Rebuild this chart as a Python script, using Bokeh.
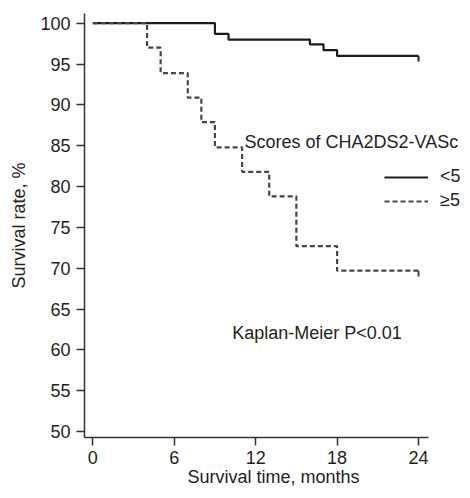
from bokeh.plotting import figure
from bokeh.models import Range1d, Label, Legend, LegendItem, FixedTicker
from bokeh.embed import file_html
from bokeh.resources import INLINE

# Data
low_t = [0, 9, 10, 16, 17, 18, 24]
low_s = [100, 98.7, 98.0, 97.4, 96.7, 96.0, 96.0]
high_t = [0, 4, 5, 7, 8, 9, 11, 13, 15, 18, 24]
high_s = [100, 97.0, 93.9, 90.9, 87.9, 84.8, 81.8, 78.8, 72.7, 69.7, 69.7]
x_ticks = [0, 6, 12, 18, 24]
y_ticks = [50, 55, 60, 65, 70, 75, 80, 85, 90, 95, 100]
series_labels = ["<5", "\u22655"]
legend_title = "Scores of CHA2DS2-VASc"
note = "Kaplan-Meier P<0.01"

FONT = "Liberation Sans"
TXT = "#231f20"
FS = "18px"

p = figure(width=462, height=490, output_backend="svg", toolbar_location=None,
           x_range=Range1d(-0.61, 27.24), y_range=Range1d(49.27, 101.19),
           min_border_left=84, min_border_right=0, min_border_top=13, min_border_bottom=53)
p.outline_line_color = None
p.grid.visible = False
p.background_fill_color = "white"
p.border_fill_color = "white"

for ax in (p.xaxis, p.yaxis):
    ax.axis_line_color = "#333333"
    ax.axis_line_width = 1.5
    ax.major_tick_line_color = "#333333"
    ax.major_tick_line_width = 1.5
    ax.major_tick_out = 8
    ax.major_tick_in = 0
    ax.minor_tick_line_color = None
    ax.major_label_text_font = FONT
    ax.major_label_text_font_size = FS
    ax.major_label_text_color = TXT
    ax.axis_label_text_font = FONT
    ax.axis_label_text_font_size = FS
    ax.axis_label_text_color = TXT
    ax.axis_label_text_font_style = "normal"

p.xaxis.ticker = FixedTicker(ticks=x_ticks)
p.yaxis.ticker = FixedTicker(ticks=y_ticks)
p.xaxis.bounds = (-0.61, 24.74)
p.xaxis.axis_label = "Survival time, months"
p.yaxis.axis_label = "Survival rate, %"
p.xaxis.major_label_standoff = 5
p.yaxis.major_label_standoff = 6
p.xaxis.axis_label_standoff = 0
p.yaxis.axis_label_standoff = 8

r_low = p.step(low_t, low_s, mode="after", line_color="#1a1a1a", line_width=2.2)
r_high = p.step(high_t, high_s, mode="after", line_color="#454545", line_width=2.2,
                line_dash="5 3")
# censor ticks at end of follow-up
p.segment(x0=[low_t[-1]], y0=[low_s[-1]], x1=[low_t[-1]], y1=[low_s[-1] - 0.7],
          line_color="#1a1a1a", line_width=2)
p.segment(x0=[high_t[-1]], y0=[high_s[-1]], x1=[high_t[-1]], y1=[high_s[-1] - 0.7],
          line_color="#454545", line_width=2)

legend = Legend(items=[LegendItem(label=series_labels[0], renderers=[r_low]),
                       LegendItem(label=series_labels[1], renderers=[r_high])],
                location=(300, 226), orientation="vertical",
                glyph_width=44, glyph_height=20, label_height=20, label_standoff=12,
                spacing=3, margin=0, padding=0,
                border_line_color=None, background_fill_alpha=0,
                label_text_font=FONT, label_text_font_size=FS, label_text_color=TXT)
p.add_layout(legend, "center")

p.add_layout(Label(x=11.18, y=85.43, text=legend_title, text_font=FONT,
                   text_font_size=FS, text_color=TXT, text_baseline="middle"))
p.add_layout(Label(x=10.27, y=62.09, text=note, text_font=FONT,
                   text_font_size=FS, text_color=TXT, text_baseline="middle"))

open("out.html", "w").write(file_html(p, INLINE))
